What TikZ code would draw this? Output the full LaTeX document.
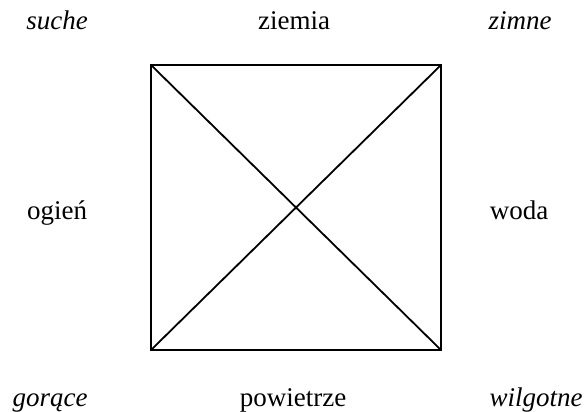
\documentclass[tikz,border=0pt]{standalone}
\usepackage{fontspec}
\setmainfont{Liberation Serif}
\begin{document}
\begin{tikzpicture}[x=1pt,y=-1pt,
  lbl/.style={font=\fontsize{27}{30}\selectfont, inner sep=0pt, anchor=base},
  ilbl/.style={lbl, font=\fontsize{27}{30}\selectfont\itshape},
  edge/.style={line width=1.8pt, line join=miter}]
\useasboundingbox (0,0) rectangle (586,412);
\coordinate (A) at (151,65);
\coordinate (B) at (441,65);
\coordinate (C) at (441,350);
\coordinate (D) at (151,350);
\draw[edge] (A) -- (B) -- (C) -- (D) -- cycle;
\draw[edge] (A) -- (C);
\draw[edge] (B) -- (D);
\node[ilbl] (suche) at (57,30) {suche};
\node[lbl] (ziemia) at (294,30) {ziemia};
\node[ilbl] (zimne) at (520,30) {zimne};
\node[lbl] (ogien) at (57,219) {ogień};
\node[lbl] (woda) at (519,219) {woda};
\node[ilbl] (goroce) at (50,406) {gorące};
\node[lbl] (powietrze) at (293,406) {powietrze};
\node[ilbl] (wilgotne) at (536,406) {wilgotne};
\end{tikzpicture}
\end{document}
